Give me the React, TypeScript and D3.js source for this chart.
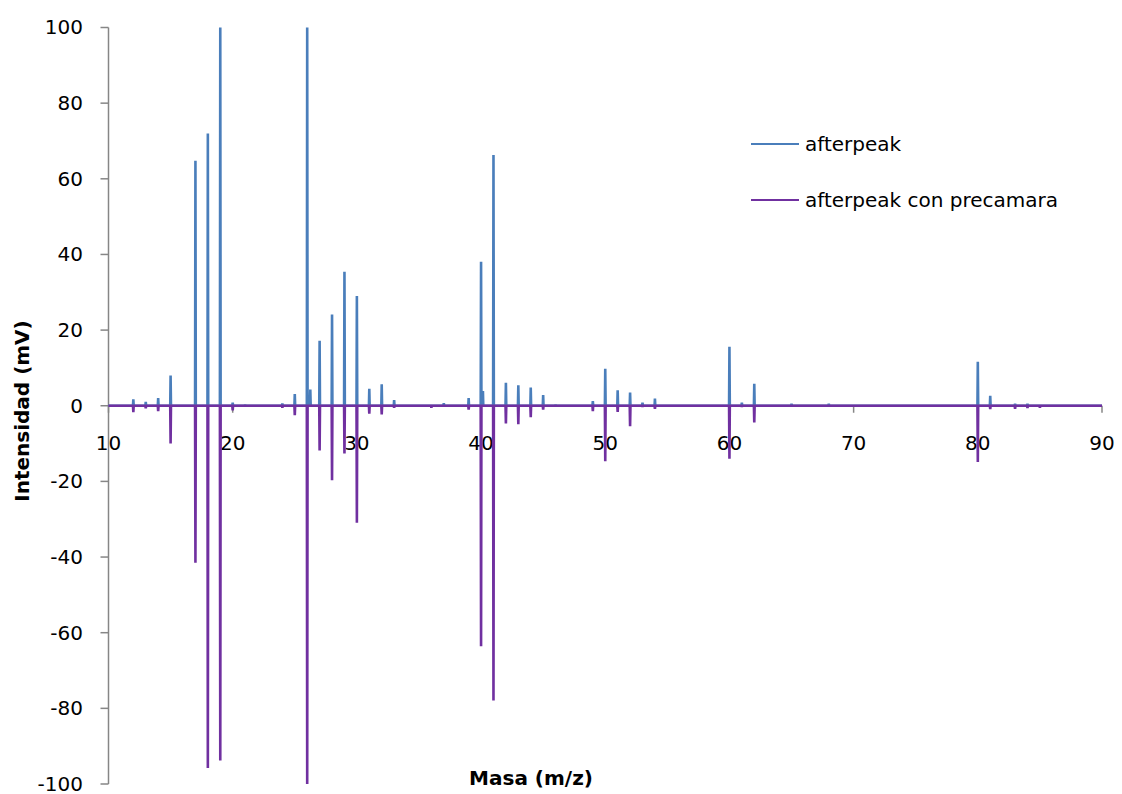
import React from "react";
import * as d3 from "d3";

// ---- Data ----
const afterpeakMass = [12, 13, 14, 15, 16, 17, 18, 19, 20, 21, 24, 25, 26, 26.25, 27, 28, 29, 30, 31, 32, 33, 34, 35, 37, 39, 40, 40.15, 41, 42, 43, 44, 45, 46, 49, 50, 51, 52, 53, 54, 60, 61, 62, 65, 68, 80, 81, 83, 84];
const afterpeakValue = [1.7, 1.0, 2.0, 8.0, 0.2, 64.8, 72.0, 100, 0.8, 0.3, 0.6, 3.1, 100, 4.3, 17.2, 24.1, 35.4, 29.0, 4.5, 5.7, 1.5, 0.2, 0.2, 0.7, 2.0, 38.1, 3.9, 66.3, 6.1, 5.4, 4.8, 2.8, 0.3, 1.2, 9.8, 4.1, 3.5, 0.8, 1.9, 15.6, 0.8, 5.8, 0.5, 0.5, 11.6, 2.6, 0.5, 0.5];

const precamaraMass = [12, 13, 14, 15, 17, 18, 19, 20, 24, 25, 26, 27, 28, 29, 30, 31, 32, 33, 36, 39, 40, 41, 42, 43, 44, 45, 49, 50, 51, 52, 53, 54, 60, 61, 62, 80, 81, 83, 84, 85];
const precamaraValue = [-1.7, -0.7, -1.4, -10.0, -41.5, -95.8, -93.8, -1.2, -0.5, -2.5, -100, -11.8, -19.7, -12.6, -30.9, -2.1, -2.3, -0.5, -0.5, -1.0, -63.6, -77.9, -4.7, -4.9, -3.0, -1.0, -1.4, -14.7, -1.6, -5.4, -0.3, -0.8, -14.0, -0.3, -4.4, -14.9, -0.9, -0.8, -0.6, -0.5];

const xTicks = [10, 20, 30, 40, 50, 60, 70, 80, 90];
const yTicks = [-100, -80, -60, -40, -20, 0, 20, 40, 60, 80, 100];

const seriesNames = ["afterpeak", "afterpeak con precamara"];
const seriesColors = ["#4A7EBB", "#7030A0"];

const xTitle = "Masa (m/z)";
const yTitle = "Intensidad (mV)";

// build a spectrum trace: zero baseline with narrow spikes
function buildTrace(mass: number[], value: number[]): [number, number][] {
  const pts: [number, number][] = [[10, 0]];
  const d = 0.03;
  mass.forEach((m, i) => {
    pts.push([m - d, 0], [m, value[i]], [m + d, 0]);
  });
  pts.push([90, 0]);
  return pts;
}

export default function App() {
  const W = 1122, H = 794;
  const left = 108.5, right = 1102, top = 27.5, bottom = 784;
  const x = d3.scaleLinear().domain([10, 90]).range([left, right]);
  const y = d3.scaleLinear().domain([-100, 100]).range([bottom, top]);
  const line = d3.line<[number, number]>().x(d => x(d[0])).y(d => y(d[1]));

  const traces = [buildTrace(afterpeakMass, afterpeakValue), buildTrace(precamaraMass, precamaraValue)];
  const font = "'DejaVu Sans', sans-serif";
  const axisColor = "#868686";

  return (
    <svg width={W} height={H} style={{ position: "absolute", left: 0, top: 0, background: "#fff" }} fontFamily={font}>
      <rect width={W} height={H} fill="#fff" />
      {/* y axis */}
      <line x1={left} x2={left} y1={top} y2={bottom} stroke={axisColor} strokeWidth={1.5} />
      {yTicks.map(t => (
        <g key={"y" + t}>
          <line x1={left - 8} x2={left} y1={y(t)} y2={y(t)} stroke={axisColor} strokeWidth={1.5} />
          <text x={83} y={y(t)} dy="0.34em" textAnchor="end" fontSize={20} fill="#000">{t}</text>
        </g>
      ))}
      {/* x axis at zero */}
      <line x1={left} x2={right} y1={y(0)} y2={y(0)} stroke={axisColor} strokeWidth={1.5} />
      {xTicks.map(t => (
        <g key={"x" + t}>
          <line x1={x(t)} x2={x(t)} y1={y(0)} y2={y(0) + 7} stroke={axisColor} strokeWidth={1.5} />
          <text x={x(t)} y={450} textAnchor="middle" fontSize={20} fill="#000">{t}</text>
        </g>
      ))}
      {/* series */}
      {traces.map((tr, i) => (
        <path key={"s" + i} d={line(tr) || ""} fill="none" stroke={seriesColors[i]} strokeWidth={2.6} strokeLinejoin="miter" strokeMiterlimit={2} />
      ))}
      {/* legend */}
      {seriesNames.map((n, i) => (
        <g key={"l" + i}>
          <line x1={751} x2={799} y1={144 + i * 56} y2={144 + i * 56} stroke={seriesColors[i]} strokeWidth={2} />
          <text x={805} y={151 + i * 56} fontSize={20} fill="#000">{n}</text>
        </g>
      ))}
      {/* titles */}
      <text x={531} y={785} textAnchor="middle" fontSize={20} fontWeight="bold" fill="#000">{xTitle}</text>
      <text transform={`translate(29,411) rotate(-90)`} textAnchor="middle" fontSize={20} fontWeight="bold" fill="#000">{yTitle}</text>
    </svg>
  );
}
